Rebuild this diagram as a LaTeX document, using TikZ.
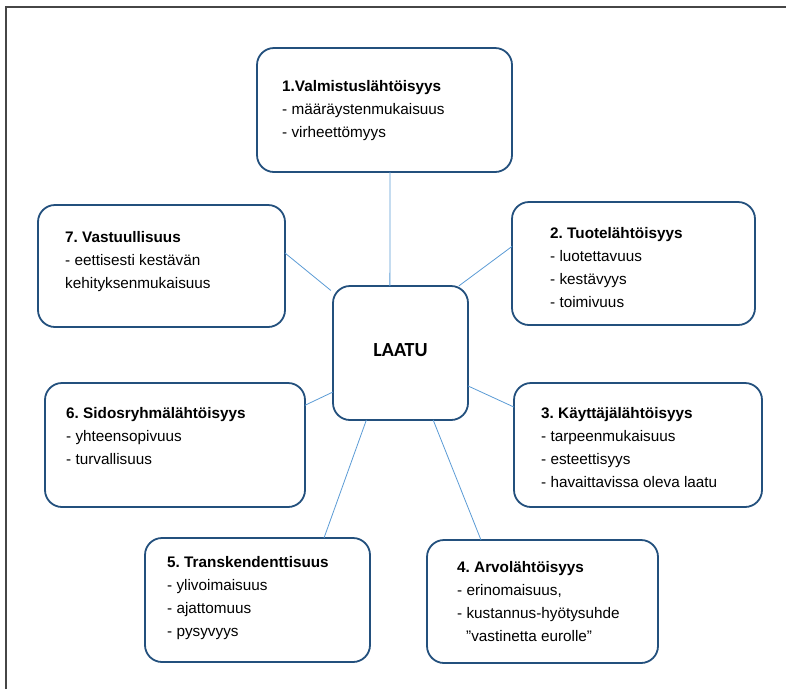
\documentclass[tikz,border=0pt]{standalone}
\usepackage{fontspec}
\setmainfont{Liberation Sans}
\newfontfamily\calfont{Carlito}
\definecolor{boxblue}{RGB}{35,80,125}
\definecolor{linkblue}{RGB}{91,155,213}
\definecolor{framegray}{RGB}{70,70,70}
\frenchspacing
\begin{document}
\begin{tikzpicture}[x=1pt,y=-1pt,
  box/.style={draw=boxblue, line width=1.8pt, rounded corners=17pt, fill=white, inner sep=0pt, outer sep=0pt},
  txt/.style={font=\fontsize{15.3}{23}\selectfont, align=left, inner sep=0pt, anchor=base west},
  link/.style={draw=linkblue, line width=0.8pt}]
\useasboundingbox (0,0) rectangle (786,689);
% frame
\draw[framegray, line width=1.6pt] (6,689) -- (6,7) -- (786,7);
% boxes
\node[box, minimum width=255, minimum height=124] (b1) at (384.5,110) {};
\node[box, minimum width=243, minimum height=123] (b2) at (633.5,263.5) {};
\node[box, minimum width=248, minimum height=124] (b3) at (638,445) {};
\node[box, minimum width=231, minimum height=123] (b4) at (542.5,601.5) {};
\node[box, minimum width=225, minimum height=124] (b5) at (257.5,600) {};
\node[box, minimum width=260, minimum height=124] (b6) at (175,445) {};
\node[box, minimum width=247, minimum height=122] (b7) at (161.5,266) {};
\node[box, minimum width=135, minimum height=134] (laatu) at (400.5,353) {};
% connectors
\draw[link] (b1.-85.85) -- (laatu.99.74);
\draw[link] (b2.172.27) -- (laatu.49.43);
\draw[link] (b3.163.39) -- (laatu.-26.05);
\draw[link] (b4.135) -- (laatu.-64.82);
\draw[link] (b5.43.87) -- (laatu.-117.24);
\draw[link] (b6.17.9) -- (laatu.210.65);
\draw[link, shorten >=2.7pt] (b7.6.47) -- (laatu.138.94);
% texts
\node[anchor=base, inner sep=0pt, font=\calfont\bfseries\fontsize{20}{24}\selectfont] (lt) at (400.5,356) {LAATU};
\node[txt] (t1) at (282,137) {\textbf{1.Valmistuslähtöisyys}\\- määräystenmukaisuus\\- virheettömyys};
\node[txt] (t2) at (550,307) {\textbf{2. Tuotelähtöisyys}\\- luotettavuus\\- kestävyys\\- toimivuus};
\node[txt] (t3) at (541,487) {\textbf{3. Käyttäjälähtöisyys}\\- tarpeenmukaisuus\\- esteettisyys\\- havaittavissa oleva laatu};
\node[txt] (t4) at (457,641) {\textbf{4. Arvolähtöisyys}\\- erinomaisuus,\\- kustannus-hyötysuhde\\\hspace*{9pt}”vastinetta eurolle”};
\node[txt] (t5) at (167,636) {\textbf{5. Transkendenttisuus}\\- ylivoimaisuus\\- ajattomuus\\- pysyvyys};
\node[txt] (t6) at (66,464) {\textbf{6. Sidosryhmälähtöisyys}\\- yhteensopivuus\\- turvallisuus};
\node[txt] (t7) at (65,288) {\textbf{7. Vastuullisuus}\\- eettisesti kestävän\\kehityksenmukaisuus};
\end{tikzpicture}
\end{document}
